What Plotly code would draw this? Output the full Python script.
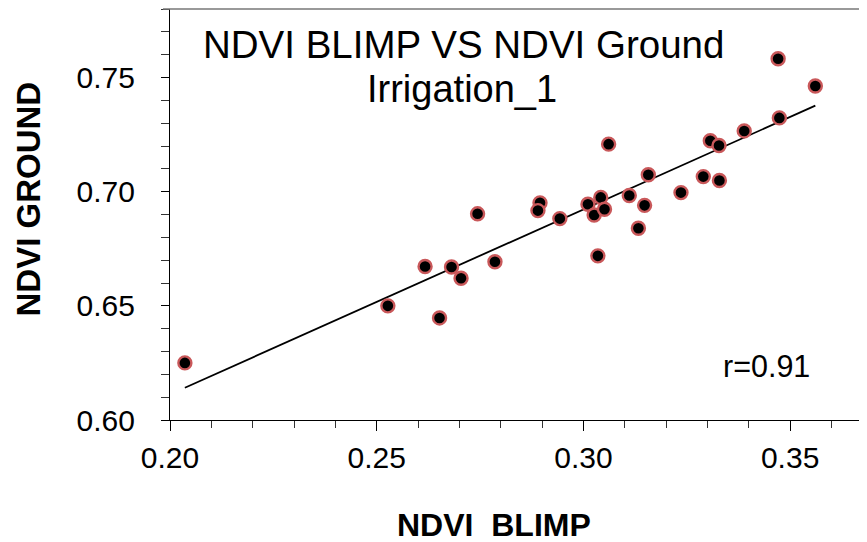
import numpy as np
import plotly.graph_objects as go

# Data
ndvi_blimp = [0.2036, 0.2527, 0.2617, 0.2681, 0.2704, 0.2652, 0.2744, 0.2786,
              0.2895, 0.2890, 0.2943, 0.3011, 0.3042, 0.3026, 0.3051, 0.3035,
              0.3111, 0.3133, 0.3061, 0.3157, 0.3148, 0.3236, 0.3290, 0.3329,
              0.3307, 0.3328, 0.3389, 0.3471, 0.3561, 0.3474]
ndvi_ground = [0.6250, 0.6500, 0.6672, 0.6670, 0.6621, 0.6447, 0.6903, 0.6693,
               0.6951, 0.6917, 0.6882, 0.6945, 0.6975, 0.6898, 0.6923, 0.6719,
               0.6983, 0.6840, 0.7208, 0.7074, 0.6940, 0.6996, 0.7066, 0.7049,
               0.7223, 0.7202, 0.7266, 0.7582, 0.7463, 0.7323]

x_tickvals = [0.20, 0.25, 0.30, 0.35]
x_ticktext = ["0.20", "0.25", "0.30", "0.35"]
y_tickvals = [0.60, 0.65, 0.70, 0.75]
y_ticktext = ["0.60", "0.65", "0.70", "0.75"]

title_line1 = "NDVI BLIMP VS NDVI Ground"
title_line2 = "Irrigation_1"
r_text = "r=0.91"
x_title = "NDVI\u00a0 BLIMP"
y_title = "NDVI GROUND"

FONT = "Liberation Sans, Arial, sans-serif"

xa = np.array(ndvi_blimp)
ya = np.array(ndvi_ground)
slope, intercept = np.polyfit(xa, ya, 1)
fit_x = [xa.min(), xa.max()]
fit_y = [slope * v + intercept for v in fit_x]

fig = go.Figure()
fig.add_trace(go.Scatter(x=fit_x, y=fit_y, mode="lines",
                         line=dict(color="black", width=1.8),
                         showlegend=False, hoverinfo="skip"))
fig.add_trace(go.Scatter(x=ndvi_blimp, y=ndvi_ground, mode="markers",
                         marker=dict(color="black", size=13,
                                     line=dict(color="#c9585a", width=2.4)),
                         showlegend=False))

# The page body adds an 8px offset, so the figure is 8px smaller and margins shifted.
fig.update_layout(
    width=859, height=534,
    margin=dict(l=162, r=0, t=1, b=122),
    paper_bgcolor="white", plot_bgcolor="white",
    font=dict(family=FONT, color="black"),
    xaxis=dict(range=[0.20, 0.3686], showgrid=False, zeroline=False,
               showline=True, linecolor="black", linewidth=1.3,
               tickmode="array", tickvals=x_tickvals, ticktext=x_ticktext,
               ticks="outside", ticklen=10, tickwidth=1.3, tickcolor="black",
               tickfont=dict(size=30, family=FONT, color="black"),
               ticklabelstandoff=1,
               minor=dict(dtick=0.01, tick0=0.20, ticks="outside", ticklen=7,
                          tickwidth=1, tickcolor="#333", showgrid=False)),
    yaxis=dict(range=[0.60, 0.78], showgrid=False, zeroline=False,
               showline=True, linecolor="black", linewidth=1.3,
               tickmode="array", tickvals=y_tickvals, ticktext=y_ticktext,
               ticks="outside", ticklen=8, tickwidth=1.1, tickcolor="black",
               tickfont=dict(size=30, family=FONT, color="black"),
               ticklabelstandoff=20,
               minor=dict(dtick=0.01, tick0=0.60, ticks="outside", ticklen=8,
                          tickwidth=1.1, tickcolor="#333", showgrid=False)),
    shapes=[dict(type="line", xref="paper", yref="paper", x0=-0.01, x1=1,
                 y0=1, y1=1, line=dict(color="#777", width=1.3))],
    annotations=[
        dict(text=title_line1, xref="paper", yref="paper", x=0.4204, y=0.9136,
             xanchor="center", yanchor="middle", showarrow=False,
             font=dict(size=38.5, family=FONT, color="black")),
        dict(text=title_line2, xref="paper", yref="paper", x=0.4189, y=0.8042,
             xanchor="center", yanchor="middle", showarrow=False,
             font=dict(size=38, family=FONT, color="black")),
        dict(text=r_text, xref="paper", yref="paper", x=0.8558, y=0.1326,
             xanchor="center", yanchor="middle", showarrow=False,
             font=dict(size=30.5, family=FONT, color="black")),
        dict(text="<b>" + x_title + "</b>", xref="paper", yref="paper",
             x=0.4648, y=-0.2553, xanchor="center", yanchor="middle",
             showarrow=False, font=dict(size=32, family=FONT, color="black")),
        dict(text="<b>" + y_title + "</b>", xref="paper", yref="paper",
             x=-0.2037, y=0.5365, xanchor="center", yanchor="middle",
             textangle=-90, showarrow=False,
             font=dict(size=33, family=FONT, color="black")),
    ],
)

fig.write_html("out.html")
